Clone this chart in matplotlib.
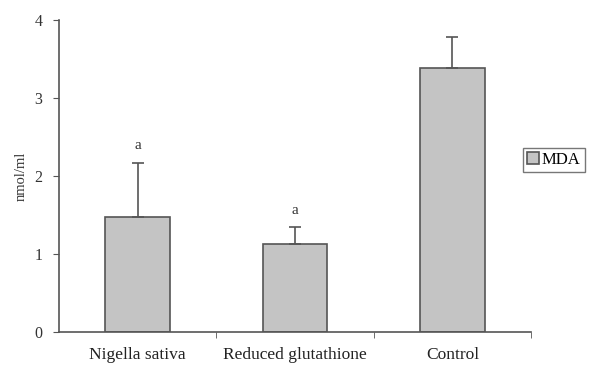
import matplotlib
matplotlib.use("Agg")
import matplotlib.pyplot as plt
import numpy as np

# MDA levels (nmol/ml)
groups = ["Nigella sativa", "Reduced glutathione", "Control"]
means = [1.48, 1.13, 3.38]
sd_upper = [0.69, 0.21, 0.41]
letters = ["a", "a", ""]

plt.rcParams["font.family"] = ["Liberation Serif", "DejaVu Serif"]

fig = plt.figure(figsize=(5.9, 3.66), dpi=100)
ax = fig.add_axes([0.1, 0.093, 0.8, 0.852])

x = np.arange(len(groups))
line_col = "#555555"
bars = ax.bar(x, means, width=0.41, color="#c4c4c4", edgecolor=line_col,
              linewidth=1.2, label="MDA", zorder=2)
ax.errorbar(x, means, yerr=[np.zeros(len(means)), sd_upper], fmt="none",
            ecolor=line_col, elinewidth=1.2, capsize=4, capthick=1.2, zorder=3)

for xi, m, e, t in zip(x, means, sd_upper, letters):
    if t:
        ax.text(xi, m + e + 0.14, t, ha="center", va="bottom", fontsize=11,
                color="#333333")

ax.set_xlim(-0.5, 2.5)
ax.set_ylim(0, 4)
ax.set_yticks([0, 1, 2, 3, 4])
ax.set_xticks(x)
ax.set_xticklabels(groups, fontsize=12.5, color="#222222")
ax.tick_params(axis="x", length=0, pad=11)
ax.set_xticks([0.5, 1.5, 2.5], minor=True)
ax.tick_params(axis="x", which="minor", length=4, color=line_col, direction="out")
ax.tick_params(axis="y", length=4, color=line_col, labelsize=11.5,
               labelcolor="#333333", pad=8)
ax.set_ylabel("nmol/ml", fontsize=10.5, color="#333333", labelpad=5)

for s in ["top", "right"]:
    ax.spines[s].set_visible(False)
for s in ["left", "bottom"]:
    ax.spines[s].set_color(line_col)
    ax.spines[s].set_linewidth(1.2)

fig.legend(handles=[bars], labels=["MDA"], loc="center left",
           bbox_to_anchor=(0.887, 0.563), borderaxespad=0, frameon=True,
           fancybox=False, edgecolor=line_col, fontsize=12, handlelength=0.7,
           handleheight=0.7, handletextpad=0.15, borderpad=0.25)

fig.savefig("out.png", dpi=100)
